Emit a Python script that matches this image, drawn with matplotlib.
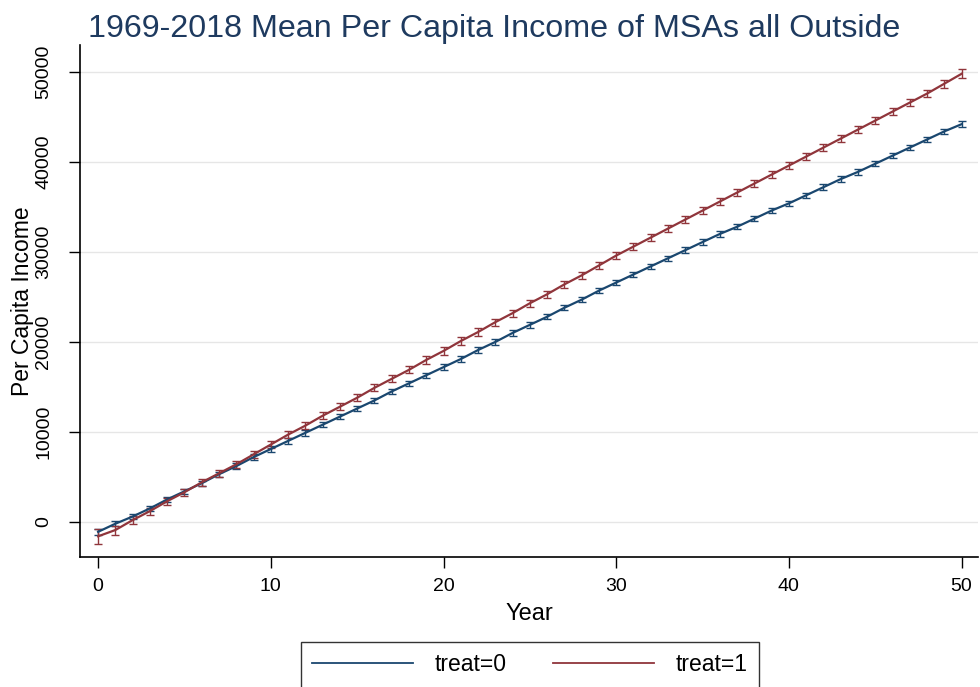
import matplotlib
matplotlib.use("Agg")
import matplotlib.pyplot as plt
import numpy as np

plt.rcParams['font.family'] = ['Liberation Sans', 'DejaVu Sans']

years = list(range(0, 51))
treat1 = [-1600, -900, 200, 1200, 2300, 3300, 4400, 5400, 6400, 7500,
          8600, 9700, 10700, 11800, 12800, 13800, 14900, 15900, 16900, 18000,
          19000, 20100, 21100, 22200, 23200, 24300, 25300, 26400, 27400, 28500,
          29600, 30600, 31600, 32600, 33600, 34600, 35600, 36600, 37600, 38600,
          39600, 40600, 41600, 42600, 43600, 44600, 45600, 46600, 47600, 48700,
          49800]
treat0 = [-1100, -200, 600, 1500, 2500, 3400, 4300, 5300, 6200, 7200,
          8100, 9000, 9900, 10800, 11700, 12600, 13500, 14500, 15400, 16300,
          17200, 18100, 19100, 20000, 21000, 21900, 22800, 23800, 24700, 25700,
          26600, 27500, 28400, 29300, 30200, 31100, 32000, 32800, 33700, 34600,
          35400, 36300, 37200, 38100, 38900, 39800, 40700, 41600, 42500, 43400,
          44200]
err1 = [800, 500, 450, 400, 400, 400, 400, 400, 400, 400,
        400, 400, 400, 400, 400, 400, 400, 400, 400, 400,
        400, 400, 400, 400, 400, 400, 400, 400, 400, 400,
        400, 400, 400, 400, 400, 400, 400, 400, 400, 400,
        400, 400, 400, 400, 400, 400, 400, 400, 400, 450,
        500]
err0 = [300] * 51

navy = '#1a476f'
maroon = '#90353b'

fig = plt.figure(figsize=(9.8, 6.87), dpi=100)
ax = fig.add_axes([80/980, (687-557)/687, (978-80)/980, (557-45)/687])

ax.errorbar(years, treat0, yerr=err0, color=navy, lw=1.6, capsize=3,
            elinewidth=1.0, capthick=1.0, label='treat=0')
ax.errorbar(years, treat1, yerr=err1, color=maroon, lw=1.6, capsize=3,
            elinewidth=1.0, capthick=1.0, label='treat=1')

ax.set_xlim(-1.05, 50.95)
ax.set_ylim(-3900, 53000)
ax.set_xticks([0, 10, 20, 30, 40, 50])
ax.set_yticks([0, 10000, 20000, 30000, 40000, 50000])
ax.tick_params(axis='both', labelsize=14, length=8, width=1, direction='out', colors='black')
ax.tick_params(axis='x', pad=7)
ax.tick_params(axis='y', pad=12)
for lab in ax.get_yticklabels():
    lab.set_rotation(90)
    lab.set_va('center')
ax.grid(axis='y', color='#e6e6e6', lw=1.0)
ax.set_axisbelow(True)
for s in ['top', 'right']:
    ax.spines[s].set_visible(False)
for s in ['left', 'bottom']:
    ax.spines[s].set_linewidth(1.2)

ax.set_xlabel('Year', fontsize=17, labelpad=6)
ax.set_ylabel('Per Capita Income', fontsize=16.5, labelpad=1)

fig.text(88/980, 1 - 29/687, '1969-2018 Mean Per Capita Income of MSAs all Outside',
         fontsize=23.2, color='#1e3a5f', va='center', ha='left')

handles = [plt.Line2D([], [], color=navy, lw=1.3), plt.Line2D([], [], color=maroon, lw=1.3)]
leg = fig.legend(handles, ['treat=0', 'treat=1'], loc='upper center',
                 bbox_to_anchor=(530/980, 1 - 642/687), ncol=2,
                 prop={'size': 16.5},
                 frameon=True, fancybox=False, edgecolor='black', handlelength=4.4,
                 columnspacing=2.0, borderpad=0.5, borderaxespad=0, handletextpad=0.95)
leg.get_frame().set_linewidth(1.0)

fig.savefig('out.png', dpi=100)
